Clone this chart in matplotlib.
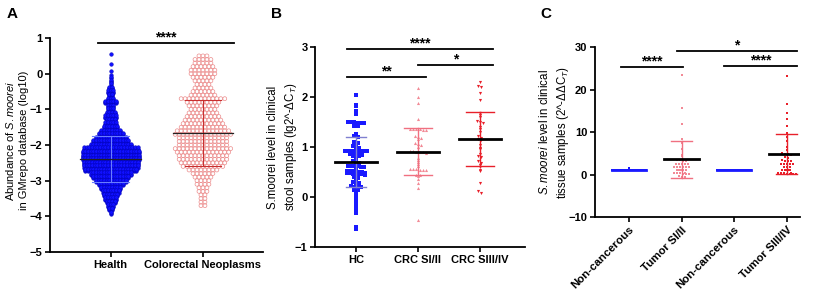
import numpy as np
import matplotlib
matplotlib.use("Agg")
import matplotlib.pyplot as plt

plt.rcParams['font.family'] = ['Liberation Sans', 'DejaVu Sans']
plt.rcParams['mathtext.fontset'] = 'custom'
plt.rcParams['mathtext.rm'] = 'Liberation Sans'
plt.rcParams['mathtext.it'] = 'Liberation Sans:italic'
plt.rcParams['mathtext.bf'] = 'Liberation Sans:bold'

# ---------------- Panel A data (binned counts) ----------------
a_categories = ["Health", "Colorectal Neoplasms"]
health_levels = [0.6, 0.5, 0.4, 0.3, 0.2, 0.1, 0.0, -0.1, -0.2, -0.3, -0.4, -0.5, -0.6, -0.7,
                 -0.8, -0.9, -1.0, -1.1, -1.2, -1.3, -1.4, -1.5, -1.6, -1.7, -1.8, -1.9, -2.0,
                 -2.1, -2.2, -2.3, -2.4, -2.5, -2.6, -2.7, -2.8, -2.9, -3.0, -3.1, -3.2, -3.3,
                 -3.4, -3.5, -3.6, -3.7, -3.8, -3.9]
health_counts = [1, 0, 0, 1, 0, 1, 1, 2, 3, 3, 6, 9, 6, 9,
                 15, 9, 9, 12, 15, 12, 15, 18, 24, 30, 36, 42, 48,
                 63, 66, 66, 66, 63, 63, 60, 48, 42, 36, 30, 24, 21,
                 18, 15, 12, 9, 6, 3]
crc_levels = [0.5, 0.4, 0.3, 0.2, 0.1, 0.0, -0.1, -0.2, -0.3, -0.4, -0.5, -0.6, -0.7, -0.8,
              -0.9, -1.0, -1.1, -1.2, -1.3, -1.4, -1.5, -1.6, -1.7, -1.8, -1.9, -2.0, -2.1,
              -2.2, -2.3, -2.4, -2.5, -2.6, -2.7, -2.8, -2.9, -3.0, -3.1, -3.2, -3.3, -3.4,
              -3.5, -3.6, -3.7]
crc_counts = [3, 5, 5, 6, 7, 7, 6, 5, 4, 5, 6, 7, 12, 9,
              8, 7, 8, 9, 10, 11, 12, 14, 15, 13, 13, 13, 15,
              14, 13, 13, 12, 11, 8, 6, 5, 4, 4, 3, 3, 2,
              2, 2, 2]
a_means = [-2.4, -1.65]
a_sd_low = [-3.05, -2.6]
a_sd_high = [-1.75, -0.75]

# ---------------- Panel B data ----------------
b_categories = ["HC", "CRC SI/II", "CRC SIII/IV"]
b_hc = [2.03, 1.84, 1.82, 1.72, 1.65, 1.50, 1.50, 1.50, 1.48, 1.48, 1.48, 1.41, 1.41,
        1.25, 1.22, 1.20, 1.10, 1.08, 1.05, 1.02, 1.00, 0.98,
        0.92, 0.92, 0.92, 0.92, 0.92, 0.92, 0.92, 0.92, 0.85, 0.85, 0.83, 0.83, 0.83, 0.81, 0.81, 0.81,
        0.75, 0.72, 0.70, 0.68, 0.65, 0.62, 0.61, 0.61, 0.61, 0.60, 0.60,
        0.53, 0.52, 0.52, 0.52, 0.51, 0.50, 0.50, 0.48, 0.47, 0.47, 0.46, 0.46, 0.45, 0.45, 0.44,
        0.40, 0.38, 0.35, 0.30, 0.28, 0.28, 0.22, 0.20, 0.20, 0.19, 0.14, 0.14, 0.12,
        0.05, 0.02, -0.05, -0.12, -0.18, -0.25, -0.32, -0.60, -0.65]
b_s12 = [2.17, 2.00, 1.88, 1.56, 1.36, 1.36, 1.35, 1.35, 1.34, 1.34, 1.22, 1.20, 1.18, 1.16,
         1.07, 1.05, 1.03, 1.00, 0.92, 0.91, 0.90, 0.90, 0.89, 0.88, 0.78, 0.74, 0.70, 0.65, 0.62,
         0.56, 0.56, 0.55, 0.54, 0.54, 0.53, 0.44, 0.43, 0.42, 0.35, 0.28, 0.18, -0.46]
b_s34 = [2.29, 2.22, 2.20, 2.08, 1.93, 1.68, 1.64, 1.60, 1.52, 1.50, 1.48, 1.40, 1.35, 1.30,
         1.22, 1.18, 1.15, 1.13, 1.03, 0.98, 0.95, 0.86, 0.82, 0.80, 0.72, 0.68, 0.63, 0.60,
         0.53, 0.51, 0.27, 0.11, 0.08]
b_means = [0.70, 0.90, 1.16]
b_sd = [0.50, 0.47, 0.54]

# ---------------- Panel C data ----------------
c_categories = ["Non-cancerous", "Tumor SI/II", "Non-cancerous", "Tumor SIII/IV"]
c_nc1 = [1.0] * 44 + [1.5]
c_t12 = [23.4, 15.6, 11.9, 8.3, 7.4, 6.0, 4.6, 4.3, 3.4, 3.4, 3.3, 3.3, 2.6, 2.6, 2.6, 2.5, 2.5,
         1.9, 1.9, 1.9, 1.8, 1.8, 1.8, 1.2, 1.1, 1.1, 1.1, 1.0, 1.0, 0.4, 0.3, 0.3, 0.3, 0.2, 0.2,
         0.2, -0.4, -0.5, -0.5]
c_nc2 = [1.0] * 44
c_t34 = [23.2, 16.7, 14.5, 13.0, 11.4, 9.7, 8.8, 7.8, 6.6, 5.9, 5.0, 4.9, 4.8, 4.6, 4.1, 4.0,
         3.4, 3.3, 3.3, 3.2, 2.6, 2.6, 2.5, 2.5, 2.5, 1.8, 1.8, 1.8, 1.7, 1.1, 1.1, 1.0, 1.0, 1.0,
         0.4, 0.3, 0.3, 0.3, 0.2, 0.2, 0.2, 0.1]
c_means = [1.0, 3.6, 1.0, 4.9]
c_sd = [0.1, 4.4, 0.1, 4.7]


def swarm_rows(levels, counts, center, dx, subrows, dy):
    xs, ys = [], []
    for lev, n in zip(levels, counts):
        if n == 0:
            continue
        per = int(np.ceil(n / subrows))
        k = 0
        for r in range(subrows):
            m = min(per, n - k)
            if m <= 0:
                break
            off = (np.arange(m) - (m - 1) / 2) * dx
            yr = lev + (r - (subrows - 1) / 2) * dy
            xs.extend(center + off)
            ys.extend([yr] * m)
            k += m
    return np.array(xs), np.array(ys)


def swarm_values(vals, center, dx, binsize):
    vals = np.asarray(vals)
    keys = np.round(vals / binsize).astype(int)
    xs = np.zeros(len(vals))
    for key in np.unique(keys):
        idx = np.where(keys == key)[0]
        m = len(idx)
        xs[idx] = center + (np.arange(m) - (m - 1) / 2) * dx
    return xs, vals


fig = plt.figure(figsize=(8.25, 2.93), dpi=100)

def style(ax):
    for s in ["top", "right"]:
        ax.spines[s].set_visible(False)
    for s in ["left", "bottom"]:
        ax.spines[s].set_linewidth(1.3)
    ax.tick_params(width=1.2, length=3.5, labelsize=8, pad=2)
    for lab in ax.get_yticklabels():
        lab.set_fontweight("bold")

def bracket(ax, x1, x2, y, txt):
    ax.plot([x1, x2], [y, y], color="black", lw=1.3, clip_on=False)
    ax.annotate(txt, ((x1 + x2) / 2, y), xytext=(0, 1.0), textcoords="offset points",
                ha="center", va="baseline", fontsize=10, fontweight="bold",
                annotation_clip=False)

# ---- Panel A ----
axA = fig.add_axes([0.0606, 0.140, 0.258, 0.730])
x, y = swarm_rows(health_levels, health_counts, 0, 0.029, 3, 0.033)
axA.scatter(x, y, s=7, color="#1010ff", edgecolors="#0000b0", linewidths=0.3, zorder=2)
x, y = swarm_rows(crc_levels, crc_counts, 1, 0.043, 1, 0.1)
axA.scatter(x, y, s=8, facecolors="none", edgecolors="#ec8c8c", linewidths=0.5, zorder=2)
for i, c in enumerate(["#6a7cff", "#c83030"]):
    axA.plot([i, i], [a_sd_low[i], a_sd_high[i]], color=c, lw=0.8, zorder=3)
    for yy in (a_sd_low[i], a_sd_high[i]):
        axA.plot([i - 0.2, i + 0.2], [yy, yy], color=c, lw=0.8, zorder=3)
    axA.plot([i - 0.33, i + 0.33], [a_means[i], a_means[i]], color="#222222", lw=0.9, zorder=4)
axA.set_xlim(-0.66, 1.65)
axA.set_ylim(-5, 1)
axA.set_yticks(range(-5, 2))
axA.set_xticks([0, 1])
style(axA)
axA.set_xticklabels(a_categories, fontsize=8, fontweight="bold")
axA.set_ylabel("Abundance of $\\it{S.moorei}$\nin GMrepo database (log10)", fontsize=8,
               linespacing=1.35)
axA.yaxis.set_label_coords(-0.1, 0.52)
bracket(axA, -0.14, 1.34, 0.86, "****")

# ---- Panel B ----
axB = fig.add_axes([0.382, 0.157, 0.2545, 0.683])
bcols = ["#1a1aff", "#f28a96", "#e8202a"]
bmark = ["s", "^", "v"]
for i, vals in enumerate([b_hc, b_s12, b_s34]):
    x, y = swarm_values(vals, i, 0.05, 0.05)
    axB.scatter(x, y, s=5, marker=bmark[i], color=bcols[i], linewidths=0, zorder=2)
capc = ["#8080d0", "#f07080", "#e8202a"]
capw = [0.16, 0.22, 0.22]
for i in range(3):
    lo, hi = b_means[i] - b_sd[i], b_means[i] + b_sd[i]
    axB.plot([i, i], [lo, hi], color=capc[i], lw=1.0, zorder=3)
    for yy in (lo, hi):
        axB.plot([i - capw[i], i + capw[i]], [yy, yy], color=capc[i], lw=1.0, zorder=3)
    axB.plot([i - 0.34, i + 0.34], [b_means[i], b_means[i]], color="black", lw=2.0, zorder=4)
axB.set_xlim(-0.66, 2.73)
axB.set_ylim(-1, 3)
axB.set_yticks(range(-1, 4))
axB.set_xticks([0, 1, 2])
style(axB)
axB.set_xticklabels(b_categories, fontsize=8, fontweight="bold")
axB.set_ylabel("S.moorei level in clinical\nstool samples (lg2^-ΔC$_T$)", fontsize=8.3,
               linespacing=1.4)
axB.yaxis.set_label_coords(-0.075, 0.5)
bracket(axB, -0.15, 2.21, 2.96, "****")
bracket(axB, 1.0, 2.21, 2.64, "*")
bracket(axB, -0.15, 1.13, 2.40, "**")

# ---- Panel C ----
axC = fig.add_axes([0.721, 0.259, 0.2485, 0.580])
ccols = ["#1a1aff", "#f28a96", "#1a1aff", "#e8202a"]
cdx = [0.015, 0.057, 0.015, 0.057]
for i, vals in enumerate([c_nc1, c_t12, c_nc2, c_t34]):
    x, y = swarm_values(vals, i, cdx[i], 0.7)
    axC.scatter(x, y, s=4, marker="s", color=ccols[i], linewidths=0, zorder=2)
ccap = ["#1a1aff", "#f07080", "#1a1aff", "#e8202a"]
for i in range(4):
    lo, hi = c_means[i] - c_sd[i], c_means[i] + c_sd[i]
    if i in (1, 3):
        axC.plot([i, i], [lo, hi], color=ccap[i], lw=1.0, zorder=3)
        for yy in (lo, hi):
            axC.plot([i - 0.2, i + 0.2], [yy, yy], color=ccap[i], lw=1.0, zorder=3)
        axC.plot([i - 0.34, i + 0.34], [c_means[i], c_means[i]], color="black", lw=2.0, zorder=4)
    else:
        axC.plot([i - 0.33, i + 0.33], [c_means[i], c_means[i]], color="#1a1aff", lw=2.0, zorder=4)
axC.set_xlim(-0.65, 3.25)
axC.set_ylim(-10, 30)
axC.set_yticks([-10, 0, 10, 20, 30])
axC.set_xticks([0, 1, 2, 3])
style(axC)
axC.set_xticklabels(c_categories, fontsize=8.2, fontweight="bold", rotation=45, ha="right",
                    rotation_mode="anchor")
axC.set_ylabel("$\\it{S.moorei}$ level in clinical\ntissue samples (2^-ΔΔC$_T$)", fontsize=8.3,
               linespacing=1.4)
axC.yaxis.set_label_coords(-0.115, 0.5)
bracket(axC, -0.15, 1.02, 25.4, "****")
bracket(axC, 0.91, 3.2, 29.1, "*")
bracket(axC, 1.8, 3.2, 25.5, "****")

for lab, xx in [("A", 0.008), ("B", 0.328), ("C", 0.655)]:
    fig.text(xx, 0.975, lab, fontsize=11, fontweight="bold", va="top", ha="left")

fig.savefig("out.png", dpi=100)
